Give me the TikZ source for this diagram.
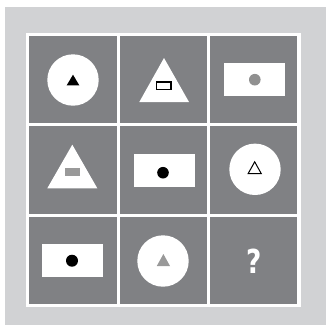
\documentclass[tikz,border=0pt]{standalone}
\usepackage{fontspec}
\setmainfont{Liberation Sans}
\newfontfamily\qfont{DejaVu Sans}
\definecolor{bglight}{HTML}{D1D2D4}
\definecolor{celldark}{HTML}{808184}
\definecolor{dotgray}{HTML}{909090}
\definecolor{markgray}{HTML}{999999}
\begin{document}
\begin{tikzpicture}[x=1pt,y=-1pt,
  cellbox/.style={fill=celldark},
  whiteshape/.style={fill=white},
  qmark/.style={text=white,font=\qfont\fontsize{33}{33}\selectfont\bfseries,inner sep=0pt}]
\useasboundingbox (0,0) rectangle (326,325);
% backgrounds
\fill[bglight] (5,7) rectangle (326,325);
\fill[white] (26,33) rectangle (300.5,307);
% cells
\foreach \xa/\xb in {29/116.5,119.5/207,210/297.3}{
  \foreach \ya/\yb in {36/123.3,126.3/213.5,216.5/304}{
    \fill[cellbox] (\xa,\ya) rectangle (\xb,\yb);
  }
}
% row 1
\fill[whiteshape] (73,80) circle (25.7);
\fill[black] (73,74.7) -- (79.3,85.3) -- (66.7,85.3) -- cycle;
\fill[whiteshape] (164,58) -- (189,102) -- (139.3,102) -- cycle;
\draw[black,line width=1.2pt,fill=white] (156.6,82) rectangle (171,89.4);
\fill[whiteshape] (224,62.7) rectangle (285,95.7);
\fill[dotgray] (254.8,79.7) circle (5.8);
% row 2
\fill[whiteshape] (72.3,144.7) -- (97.3,188.3) -- (47.3,188.3) -- cycle;
\fill[markgray] (65,167.7) rectangle (79.7,175.7);
\fill[whiteshape] (134,154) rectangle (195,186.7);
\fill[black] (163,172.7) circle (5.8);
\fill[whiteshape] (255,169.3) circle (25.7);
\draw[black,line width=1pt,line join=miter] (254.7,161.8) -- (261.2,173.5) -- (248.2,173.5) -- cycle;
% row 3
\fill[whiteshape] (42,244) rectangle (102.7,276.7);
\fill[black] (72,260.7) circle (6);
\fill[whiteshape] (163,261) circle (25.7);
\fill[markgray] (163.4,254) -- (170,266) -- (156.8,266) -- cycle;
\node[qmark] (q) at (254.2,261.7) {\scalebox{0.8}[1]{?}};
\end{tikzpicture}
\end{document}
